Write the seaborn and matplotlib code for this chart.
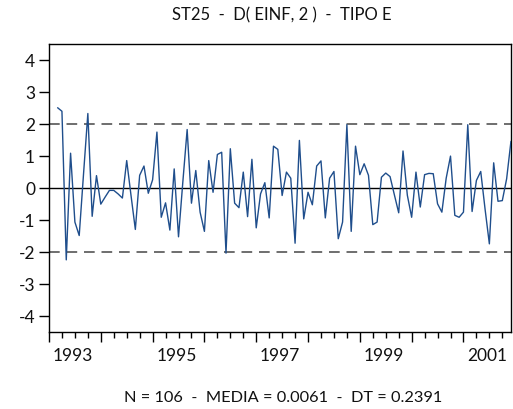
import numpy as np
import pandas as pd
import matplotlib
matplotlib.use("Agg")
import matplotlib.pyplot as plt
import matplotlib.transforms as mtransforms
import seaborn as sns

# Monthly second difference of EINF, March 1993 to December 2001
start_year = 1993
start_month_index = 2  # months after January 1993
values = [
    2.50, 2.39, -2.25, 1.08, -1.07, -1.49, 0.43, 2.32, -0.89, 0.38,
    -0.51, -0.29, -0.08, -0.08, -0.19, -0.32, 0.85, -0.24, -1.30, 0.39,
    0.68, -0.17, 0.25, 1.74, -0.92, -0.47, -1.32, 0.59, -1.53, 0.18,
    1.82, -0.48, 0.54, -0.76, -1.36, 0.85, -0.14, 1.04, 1.11, -2.04,
    1.22, -0.48, -0.62, 0.49, -0.90, 0.89, -1.25, -0.19, 0.16, -0.94,
    1.30, 1.20, -0.24, 0.49, 0.30, -1.73, 1.48, -0.97, -0.14, -0.53,
    0.68, 0.84, -0.94, 0.30, 0.51, -1.59, -1.07, 1.97, -1.36, 1.30,
    0.41, 0.75, 0.39, -1.15, -1.07, 0.33, 0.46, 0.35, -0.22, -0.78,
    1.15, -0.23, -0.92, 0.49, -0.60, 0.41, 0.45, 0.44, -0.50, -0.76,
    0.30, 0.99, -0.86, -0.92, -0.76, 1.97, -0.74, 0.23, 0.51, -0.66,
    -1.75, 0.78, -0.42, -0.40, 0.28, 1.45,
]
band = [-2, 2]
year_labels = ["1993", "1995", "1997", "1999", "2001"]
title = "ST25  -  D( EINF, 2 )  -  TIPO E"
footer = "N = 106  -  MEDIA = 0.0061  -  DT = 0.2391"

months = np.arange(start_month_index, start_month_index + len(values))
df = pd.DataFrame({"month": months, "value": values})

sns.set_theme(style="white")
plt.rcParams["font.family"] = ["Lato", "DejaVu Sans"]

fig = plt.figure(figsize=(5.13, 4.10), dpi=100)
ax = fig.add_axes([0.0955, 0.188, 0.9005, 0.703])

ax.axhline(0, color="black", lw=1.0, zorder=1)
for b in band:
    ax.axhline(b, color="#6e6e6e", lw=1.4, ls=(0, (5.5, 3.5)), zorder=1)

sns.lineplot(data=df, x="month", y="value", ax=ax, color="#1f4e8c",
             lw=1.0, zorder=3)

last = months[-1]
ax.set_xlim(0, last)
ax.set_ylim(-4.5, 4.5)
ax.set_xlabel("")
ax.set_ylabel("")

# Year boundaries as major ticks, quarters as minor ticks
ax.set_xticks(np.arange(0, last + 1, 12))
ax.set_xticks(np.arange(0, last + 1, 3), minor=True)
ax.set_xticklabels([])
ax.tick_params(axis="x", which="major", direction="out", length=7,
               width=1.0, color="black", bottom=True)
ax.tick_params(axis="x", which="minor", direction="out", length=4,
               width=1.0, color="black", bottom=True)

ax.set_yticks(np.arange(-4, 5, 1))
ax.set_yticklabels([str(v) for v in range(-4, 5)])
ax.tick_params(axis="y", which="major", direction="out", length=7,
               width=1.0, color="black", left=True, labelsize=12.5, pad=3,
               labelcolor="#111111")

for s in ax.spines.values():
    s.set_color("black")
    s.set_linewidth(1.0)

# Year labels centred within each labelled year
trans = mtransforms.blended_transform_factory(ax.transData, ax.transAxes)
for i, lab in enumerate(year_labels):
    ax.text(i * 24 + 5.5, -0.052, lab, transform=trans, ha="center",
            va="top", fontsize=12.5, color="#111111")

fig.text(282 / 513, 1 - 15 / 410, title, ha="center", va="center",
         fontsize=12, color="#111111")
fig.text(283 / 513, 1 - 398 / 410, footer, ha="center", va="center",
         fontsize=11.8, color="#111111")

fig.savefig("out.png", dpi=100)
